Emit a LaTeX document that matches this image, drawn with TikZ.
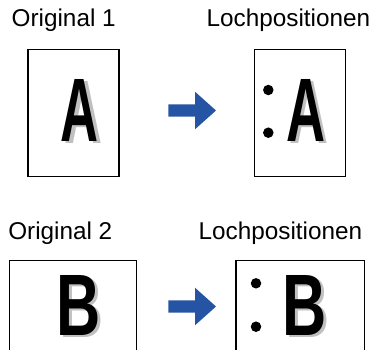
\documentclass[tikz,border=0pt]{standalone}
\usepackage{fontspec}
\setmainfont{Liberation Sans}
\usepackage{graphicx}
\definecolor{arrowblue}{RGB}{38,84,164}
\definecolor{shadowgray}{RGB}{192,192,192}
\begin{document}
\begin{tikzpicture}[x=1pt,y=-1pt,
  page/.style={draw=black, line width=1.3pt, inner sep=0pt, outer sep=0pt, fill=white},
  caption/.style={anchor=base west, inner sep=0pt, font=\fontsize{24.3}{28}\selectfont},
  glyph/.style={anchor=base west, inner sep=0pt, font=\bfseries},
  shade/.style={glyph, text=shadowgray},
  hole/.style={circle, fill=black, inner sep=0pt, minimum size=10.5pt},
  bluearrow/.style={fill=arrowblue}
]
\useasboundingbox (0,0) rectangle (369,349);
\clip (0,0) rectangle (369,349);

% captions
\node[caption] (t1) at (11.5,26.5) {Original 1};
\node[caption] (t2) at (206.5,26.5) {Lochpositionen};
\node[caption] (t3) at (8.1,239.5) {Original 2};
\node[caption] (t4) at (198.5,239.5) {Lochpositionen};

% pages
\node[page, minimum width=91pt, minimum height=127.2pt] (p1) at (73.4,113.1) {};
\node[page, minimum width=91pt, minimum height=127.2pt] (p2) at (300.2,113.1) {};
\node[page, minimum width=127.6pt, minimum height=100pt] (p3) at (73,310.5) {};
\node[page, minimum width=128.6pt, minimum height=100pt] (p4) at (300.3,310.5) {};

% letters A
\node[shade] (a1s) at (64.2,143.5) {\resizebox{38pt}{62pt}{A}};
\node[glyph] (a1) at (60.7,141) {\resizebox{38pt}{62pt}{A}};
\node[shade] (a2s) at (289.5,143.5) {\resizebox{39pt}{62pt}{A}};
\node[glyph] (a2) at (286,141) {\resizebox{39pt}{62pt}{A}};

% letters B
\node[shade] (b1s) at (59.7,337.5) {\resizebox{44.2pt}{60pt}{B}};
\node[glyph] (b1) at (56.2,335) {\resizebox{44.2pt}{60pt}{B}};
\node[shade] (b2s) at (285.7,337.5) {\resizebox{44.2pt}{60pt}{B}};
\node[glyph] (b2) at (282.2,335) {\resizebox{44.2pt}{60pt}{B}};

% punch holes
\node[hole] (h1) at (268.3,90) {};
\node[hole] (h2) at (268.3,132.7) {};
\node[hole] (h3) at (256,283.3) {};
\node[hole] (h4) at (256,326.7) {};

% block arrows
\foreach \dy/\nm in {0/ar1, 196/ar2}{
  \coordinate (\nm) at (168.3,110.5+\dy);
  \fill[bluearrow] (\nm) ++(0,-6.2) -- ++(26.7,0) -- ++(0,-12.6) -- ++(21,18.8)
     -- ++(-21,18.8) -- ++(0,-12.6) -- ++(-26.7,0) -- cycle;
}
\end{tikzpicture}
\end{document}
